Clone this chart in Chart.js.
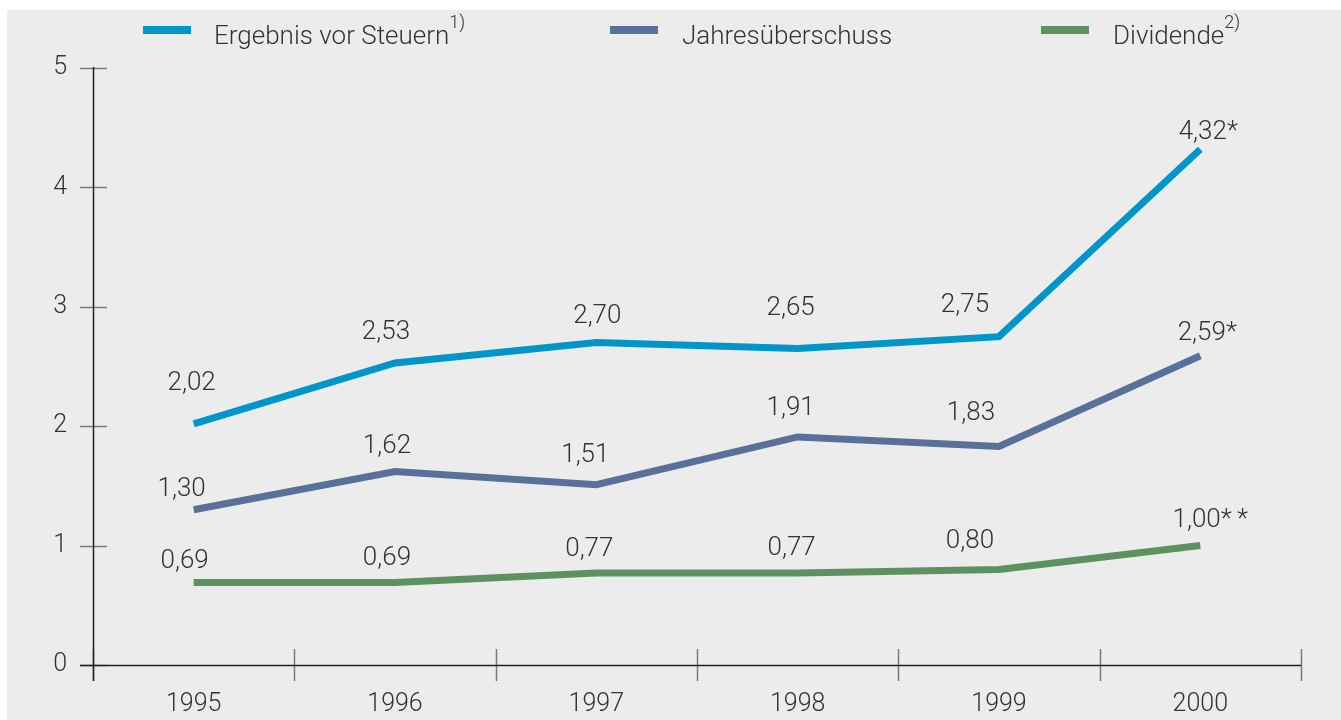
<!DOCTYPE html>
<html>
<head>
<meta charset="utf-8">
<script src="https://cdn.jsdelivr.net/npm/chart.js@4"></script>
<style>
  html, body { margin: 0; padding: 0; background: #fff; }
  body { width: 1341px; height: 720px; position: relative; overflow: hidden;
         font-family: Roboto, "Open Sans", sans-serif; font-weight: 300; color: #333; }
  #panel { position: absolute; left: 7px; top: 10px; width: 1334px; height: 710px; background: #ececec; }
  #wrap { position: absolute; left: 0; top: 0; width: 1334px; height: 710px; }
  .sw { position: absolute; top: 16px; width: 48px; height: 8px; }
  .lt { position: absolute; top: 10px; font-size: 26px; line-height: 30px; white-space: nowrap; }
  .lt sup { font-size: 18px; position: relative; top: -7px; vertical-align: top; line-height: 18px; }
</style>
</head>
<body>
<div id="panel">
  <div id="wrap"><canvas id="chart"></canvas></div>
  <div id="legend"></div>
</div>
<script>
// ── Data ───────────────────────────────────────────────────
const years      = ["1995", "1996", "1997", "1998", "1999", "2000"];
const ergebnis   = [2.02, 2.53, 2.70, 2.65, 2.75, 4.32];
const jahres     = [1.30, 1.62, 1.51, 1.91, 1.83, 2.59];
const dividende  = [0.69, 0.69, 0.77, 0.77, 0.80, 1.00];
const suffixErg  = ["", "", "", "", "", "*"];
const suffixJahr = ["", "", "", "", "", "*"];
const suffixDiv  = ["", "", "", "", "", "*\u2009*"];
const yTicks     = [0, 1, 2, 3, 4, 5];

const seriesNames = ["Ergebnis vor Steuern", "Jahresüberschuss", "Dividende"];
const seriesNotes = ["1)", "", "2)"];
const colors      = ["#0096c9", "#58709a", "#5e9160"];

// where each value label sits relative to its point (layout only)
const nudges = [
  [[-2, -42], [-9, -32], [1, -28], [-7, -42], [-34, -33], [8, -19]],
  [[-12, -22], [-8, -27], [-11, -31], [-7, -30], [-28, -35], [7, -24]],
  [[-9, -23], [-8, -26], [-7, -26], [-6, -27], [-29, -30], [10, -27]],
];

const fmt = v => v.toFixed(2).replace(".", ",");

// ── Legend (HTML so superscripts stay real text) ───────────
const legendPos = [[136, 207], [603, 675], [1034, 1106]];
document.getElementById("legend").innerHTML = seriesNames.map((n, i) => `
  <div class="sw" style="left:${legendPos[i][0]}px;background:${colors[i]}"></div>
  <div class="lt" style="left:${legendPos[i][1]}px">${n}${seriesNotes[i] ? "<sup>" + seriesNotes[i] + "</sup>" : ""}</div>
`).join("");

// ── Axis marks: ticks crossing the axes ────────────────────
const axisMarks = {
  id: "axisMarks",
  afterDraw(chart) {
    const { ctx, chartArea: a, scales: { x, y } } = chart;
    ctx.save();
    ctx.lineWidth = 1.5;
    ctx.strokeStyle = "#7a7a7a";
    y.ticks.forEach(t => {
      const py = Math.round(y.getPixelForValue(t.value)) + 0.5;
      ctx.beginPath(); ctx.moveTo(a.left - 13, py); ctx.lineTo(a.left + 14, py); ctx.stroke();
    });
    for (let i = 0; i <= years.length; i++) {
      const px = Math.round(x.getPixelForValue(i - 0.5)) + 0.5;
      ctx.beginPath(); ctx.moveTo(px, a.bottom - 16); ctx.lineTo(px, a.bottom + 16); ctx.stroke();
    }
    ctx.strokeStyle = "#222";
    const lx = Math.round(a.left) + 0.5, by = Math.round(a.bottom) + 0.5;
    ctx.beginPath(); ctx.moveTo(lx, a.top - 1); ctx.lineTo(lx, a.bottom + 16); ctx.stroke();
    ctx.beginPath(); ctx.moveTo(a.left - 13, by); ctx.lineTo(a.right, by); ctx.stroke();
    ctx.restore();
  }
};

// ── Value labels above the points ──────────────────────────
const valueLabels = {
  id: "valueLabels",
  afterDatasetsDraw(chart) {
    const { ctx } = chart;
    const suffixes = [suffixErg, suffixJahr, suffixDiv];
    ctx.save();
    ctx.font = "300 26px Roboto, 'Open Sans', sans-serif";
    ctx.fillStyle = "#333";
    ctx.textAlign = "center";
    ctx.textBaseline = "middle";
    chart.data.datasets.forEach((ds, di) => {
      chart.getDatasetMeta(di).data.forEach((pt, i) => {
        const [dx, dy] = nudges[di][i];
        ctx.fillText(fmt(ds.data[i]) + suffixes[di][i], pt.x + dx, pt.y + dy + 2);
      });
    });
    ctx.restore();
  }
};

const mkSet = (label, data, color) => ({
  label, data,
  borderColor: color, backgroundColor: color,
  borderWidth: 7, borderCapStyle: "butt", borderJoinStyle: "miter",
  pointRadius: 0, pointHoverRadius: 0, tension: 0, fill: false,
});

const tickFont = { family: "Roboto, 'Open Sans', sans-serif", weight: 300, size: 25 };

new Chart(document.getElementById("chart").getContext("2d"), {
  type: "line",
  data: {
    labels: years,
    datasets: [
      mkSet(seriesNames[0], ergebnis, colors[0]),
      mkSet(seriesNames[1], jahres, colors[1]),
      mkSet(seriesNames[2], dividende, colors[2]),
    ],
  },
  options: {
    responsive: true, maintainAspectRatio: false,
    animation: false,
    events: [],
    layout: { padding: { top: 58, right: 40, bottom: 0, left: 0 } },
    plugins: { legend: { display: false }, tooltip: { enabled: false } },
    scales: {
      x: {
        type: "category", offset: true,
        grid: { display: false, drawTicks: false, offset: true },
        border: { display: false },
        ticks: { color: "#333", font: tickFont, padding: 25, maxRotation: 0 },
        afterFit(s) { s.height = 55; },
      },
      y: {
        min: 0, max: 5,
        afterBuildTicks(s) { s.ticks = yTicks.map(v => ({ value: v })); },
        grid: { display: false, drawTicks: false },
        border: { display: false },
        ticks: { color: "#333", font: tickFont, padding: 26 },
        afterFit(s) { s.width = 86; },
      },
    },
  },
  plugins: [axisMarks, valueLabels],
});
</script>
</body>
</html>
